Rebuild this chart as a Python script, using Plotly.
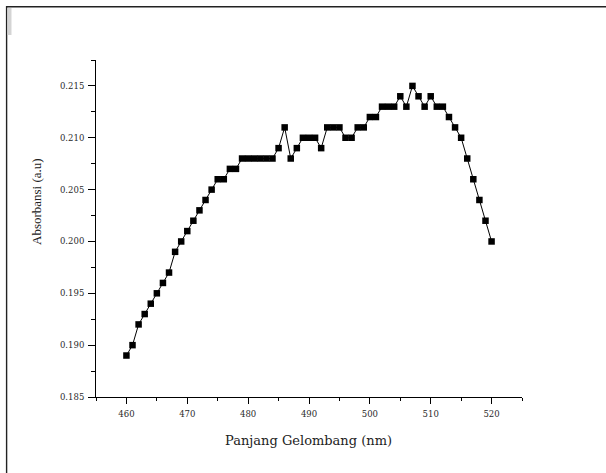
import plotly.graph_objects as go

wavelength = list(range(460, 521))
absorbance = [
    0.189, 0.190, 0.192, 0.193, 0.194, 0.195, 0.196, 0.197, 0.199, 0.200,  # 460-469
    0.201, 0.202, 0.203, 0.204, 0.205, 0.206, 0.206, 0.207, 0.207, 0.208,  # 470-479
    0.208, 0.208, 0.208, 0.208, 0.208, 0.209, 0.211, 0.208, 0.209, 0.210,  # 480-489
    0.210, 0.210, 0.209, 0.211, 0.211, 0.211, 0.210, 0.210, 0.211, 0.211,  # 490-499
    0.212, 0.212, 0.213, 0.213, 0.213, 0.214, 0.213, 0.215, 0.214, 0.213,  # 500-509
    0.214, 0.213, 0.213, 0.212, 0.211, 0.210, 0.208, 0.206, 0.204, 0.202,  # 510-519
    0.200,                                                                 # 520
]
x_ticks = [460, 470, 480, 490, 500, 510, 520]
y_ticks = [0.185, 0.190, 0.195, 0.200, 0.205, 0.210, 0.215]
x_title = "Panjang Gelombang (nm)"
y_title = "Absorbansi (a.u)"

W, H = 606, 473
L, R, T, B = 96, 84, 60, 76
PW, PH = W - L - R, H - T - B


def px(x):
    return (x - L) / PW


def py(y):
    return (H - B - y) / PH


fig = go.Figure()
fig.add_trace(go.Scatter(
    x=wavelength, y=absorbance, mode="lines+markers",
    line=dict(color="black", width=1),
    marker=dict(symbol="square", size=6.5, color="black", line=dict(width=0)),
    showlegend=False, hoverinfo="skip",
))

tickfont = dict(family="DejaVu Serif", size=8.5, color="#2a2a2a")
fig.update_xaxes(
    range=[455, 525], tickvals=x_ticks, ticktext=[str(v) for v in x_ticks],
    showline=True, linecolor="black", linewidth=1, mirror=False,
    ticks="outside", ticklen=6, tickwidth=1, tickcolor="black",
    minor=dict(ticks="outside", ticklen=3, tickwidth=1, tickcolor="black", dtick=5, tick0=455),
    showgrid=False, zeroline=False, tickfont=tickfont, ticklabelstandoff=3,
)
fig.update_yaxes(
    range=[0.185, 0.2175], tickvals=y_ticks, ticktext=[f"{v:.3f}" for v in y_ticks],
    showline=True, linecolor="black", linewidth=1, mirror=False,
    ticks="outside", ticklen=7, tickwidth=1, tickcolor="black",
    minor=dict(ticks="outside", ticklen=4, tickwidth=1, tickcolor="black", dtick=0.0025, tick0=0.185),
    showgrid=False, zeroline=False, tickfont=tickfont, ticklabelstandoff=2,
)

fig.add_annotation(
    text=x_title, xref="paper", yref="paper", x=px(308), y=py(440),
    showarrow=False, font=dict(family="DejaVu Serif", size=13, color="#222"),
    xanchor="center", yanchor="middle",
)
fig.add_annotation(
    text=y_title, xref="paper", yref="paper", x=px(36), y=py(202),
    showarrow=False, textangle=-90, font=dict(family="Liberation Serif", size=13, color="#222"),
    xanchor="center", yanchor="middle",
)

# outer frame: top edge and left edge drawn as one open path, plus small grey bar
frame_path = (
    f"M {px(606)},{py(6.8)} L {px(6.6)},{py(6.8)} L {px(6.6)},{py(473)}"
)
fig.add_shape(type="path", xref="paper", yref="paper", path=frame_path,
              line=dict(color="#222", width=1.4))
fig.add_shape(type="rect", xref="paper", yref="paper", x0=px(7.5), x1=px(11.5), y0=py(35), y1=py(8),
              line=dict(width=0), fillcolor="#d4d4d4")

fig.update_layout(
    width=W, height=H, margin=dict(l=L, r=R, t=T, b=B, pad=0),
    paper_bgcolor="white", plot_bgcolor="white",
)
fig.write_html(
    "out.html",
    config={"displayModeBar": False},
    post_script=(
        "document.body.style.margin='0';"
        "document.body.style.overflow='hidden';"
        "document.documentElement.style.overflow='hidden';"
    ),
)
